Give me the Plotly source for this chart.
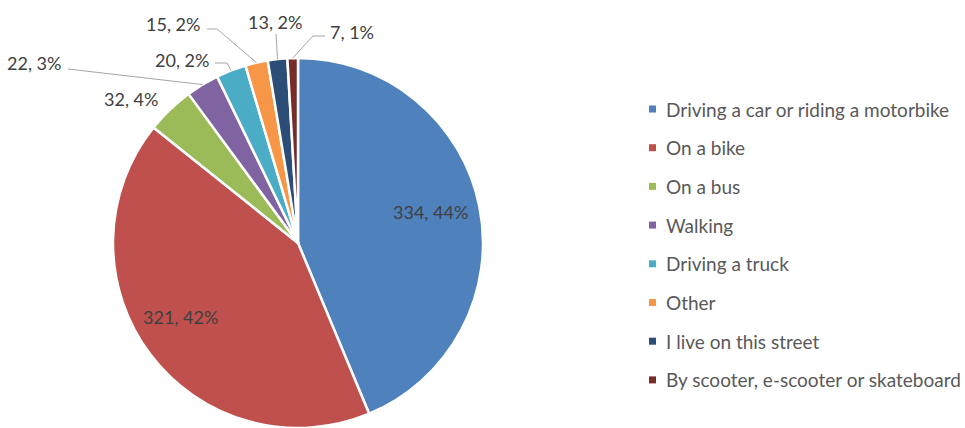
import math
import plotly.graph_objects as go

# --- data ---
categories = [
    "Driving a car or riding a motorbike",
    "On a bike",
    "On a bus",
    "Walking",
    "Driving a truck",
    "Other",
    "I live on this street",
    "By scooter, e-scooter or skateboard",
]
counts = [334, 321, 32, 22, 20, 15, 13, 7]
percent_labels = ["44%", "42%", "4%", "3%", "2%", "2%", "2%", "1%"]

colors = ["#4F81BD", "#C0504D", "#9BBB59", "#8064A2",
          "#4BACC6", "#F79646", "#2C4D75", "#772C2A"]

# --- layout (pixels) ---
W, H = 965, 428
CX, CY, R = 298, 243, 185
FONT = "Lato"

# label placement: inside labels sit on the slice mid-angle, outside ones
# are placed like Excel's best fit with a leader line
label_layout = [
    dict(kind="inside", r=0.735, dtheta=-2),
    dict(kind="inside", r=0.75, dtheta=5),
    dict(kind="outside", x=131, y=99, anchor="center", path=None),
    dict(kind="outside", x=63, y=63, anchor="right", path=[(68, 69)]),
    dict(kind="outside", x=211, y=60, anchor="right", path=[(227, 63), (215, 63)]),
    dict(kind="outside", x=202, y=24, anchor="right", path=[(217, 29), (207, 29)]),
    dict(kind="outside", x=275, y=22, anchor="center", path=[(276, 34)]),
    dict(kind="outside", x=328, y=32, anchor="left", path=[(313, 36), (325, 36)]),
]


def px(x):
    return x / W


def py(y):
    return 1 - y / H


fig = go.Figure(go.Pie(
    labels=categories,
    values=counts,
    sort=False,
    direction="clockwise",
    rotation=0,
    marker=dict(colors=colors, line=dict(color="white", width=2.5)),
    textinfo="none",
    hoverinfo="label+value+percent",
    showlegend=False,
    domain=dict(x=[px(CX - R), px(CX + R)], y=[0, (2 * R) / H]),
))

# mid angles from the data (degrees clockwise from 12 o'clock)
total = sum(counts)
mids = []
acc = 0
for v in counts:
    mids.append((acc + v / 2) / total * 360)
    acc += v

annotations = []
shapes = []
for i, lay in enumerate(label_layout):
    text = f"{counts[i]}, {percent_labels[i]}"
    if lay["kind"] == "inside":
        th = math.radians(mids[i] + lay["dtheta"])
        x = CX + lay["r"] * R * math.sin(th)
        y = CY - lay["r"] * R * math.cos(th)
        xanchor = "center"
    else:
        x, y, xanchor = lay["x"], lay["y"], lay["anchor"]
        if lay["path"]:
            th = math.radians(mids[i])
            pts = [(CX + R * math.sin(th), CY - R * math.cos(th))] + lay["path"]
            d = "M " + " L ".join(f"{px(a)},{py(b)}" for a, b in pts)
            shapes.append(dict(type="path", xref="paper", yref="paper", path=d,
                               line=dict(color="#A6A6A6", width=1)))
    annotations.append(dict(
        text=text, x=px(x), y=py(y), xref="paper", yref="paper",
        xanchor=xanchor, yanchor="middle", showarrow=False,
        font=dict(family=FONT, size=18, color="#404040"),
    ))

# legend drawn by hand to match the spacing of the original
LEG_X, LEG_Y0, LEG_DY = 652.5, 109, 38.7
for i, name in enumerate(categories):
    y = LEG_Y0 + i * LEG_DY
    shapes.append(dict(type="rect", xref="paper", yref="paper",
                       x0=px(LEG_X - 3.5), x1=px(LEG_X + 3.5),
                       y0=py(y + 3.5), y1=py(y - 3.5),
                       fillcolor=colors[i], line=dict(width=0)))
    annotations.append(dict(
        text=name, x=px(664), y=py(y), xref="paper", yref="paper",
        xanchor="left", yanchor="middle", showarrow=False,
        font=dict(family=FONT, size=19, color="#595959"),
    ))

fig.update_layout(
    width=W, height=H,
    margin=dict(l=0, r=0, t=0, b=0),
    paper_bgcolor="white",
    plot_bgcolor="white",
    annotations=annotations,
    shapes=shapes,
)

# drop the default page margin so the figure sits at the window origin
fig.write_html("out.html", config={"displayModeBar": False},
               post_script="document.body.style.margin='0';")
